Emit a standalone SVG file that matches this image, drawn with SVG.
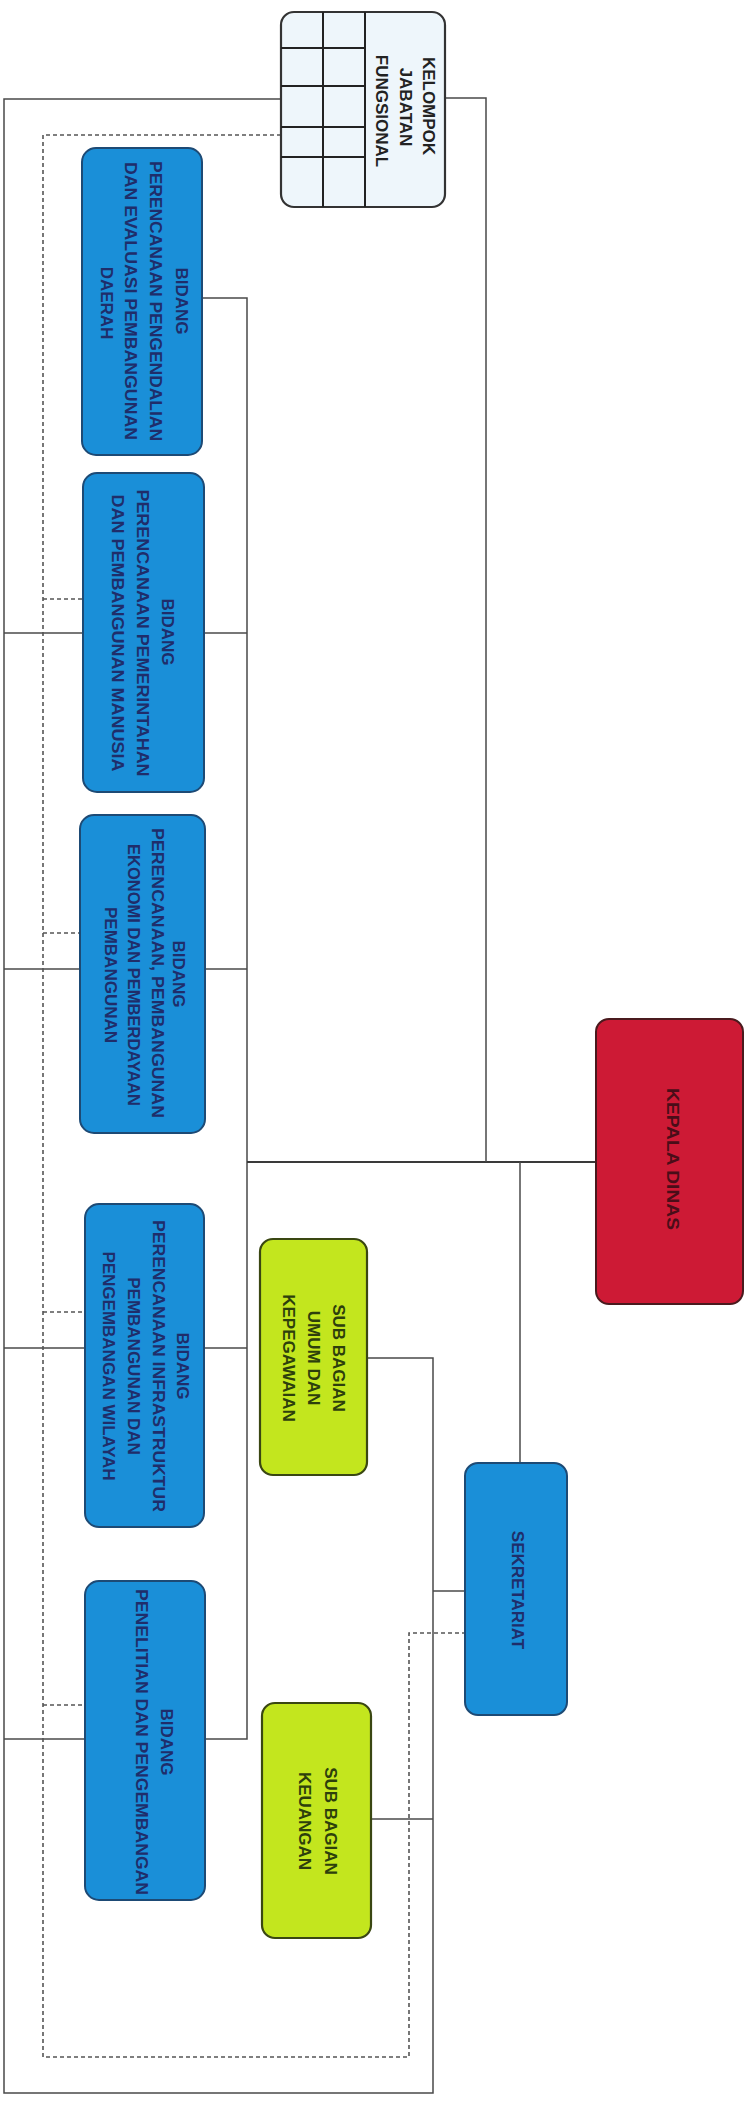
<svg xmlns="http://www.w3.org/2000/svg" width="752" height="2107" viewBox="0 0 752 2107">
<style>
.bg{fill:#ffffff}
.bidang{fill:#1a8fd8;stroke:#1d4a75;stroke-width:2}
.sub{fill:#c3e61e;stroke:#3a4712;stroke-width:2.2}
.kepala{fill:#cd1a35;stroke:#4a1a1e;stroke-width:2}
.kel{fill:#eef6fb;stroke:#333;stroke-width:2.2}
.grid{stroke:#222;stroke-width:2;fill:none}
.ln{stroke:#4a4a4a;stroke-width:1.5;fill:none}
.main{stroke:#3a3a3a;stroke-width:2.2;fill:none}
.dash{stroke:#555;stroke-width:1.6;fill:none;stroke-dasharray:4 3}
.t{font-family:"Liberation Sans",Arial,sans-serif;font-weight:bold;font-size:17px;text-anchor:middle;dominant-baseline:central}
.tb{fill:#1f2d6a}
.tg{fill:#2d3f0c}
.tr{fill:#4a0d18}
.tk{fill:#222}
</style>
<rect class="bg" x="0" y="0" width="752" height="2107"/>

<g id="connectors">
  <!-- solid outer loop from Kelompok to Sekretariat side -->
  <path class="ln" d="M281 99 H4 V2093 H433 V1358 H367"/>
  <line class="ln" x1="433" y1="1591" x2="465" y2="1591"/>
  <line class="ln" x1="371" y1="1819" x2="433" y2="1819"/>
  <!-- solid stubs to Bidang left -->
  <line class="ln" x1="4" y1="633" x2="83" y2="633"/>
  <line class="ln" x1="4" y1="969" x2="80" y2="969"/>
  <line class="ln" x1="4" y1="1348" x2="85" y2="1348"/>
  <line class="ln" x1="4" y1="1739" x2="85" y2="1739"/>
  <!-- dashed loop -->
  <path class="dash" d="M281 135 H43 V2057 H409 V1633 H465"/>
  <line class="dash" x1="43" y1="599" x2="83" y2="599"/>
  <line class="dash" x1="43" y1="933" x2="80" y2="933"/>
  <line class="dash" x1="43" y1="1312" x2="85" y2="1312"/>
  <line class="dash" x1="43" y1="1705" x2="85" y2="1705"/>
  <!-- spine right of Bidang -->
  <path class="ln" d="M202 298 H247 V1739 H205"/>
  <line class="ln" x1="204" y1="633" x2="247" y2="633"/>
  <line class="ln" x1="205" y1="969" x2="247" y2="969"/>
  <line class="ln" x1="204" y1="1348" x2="247" y2="1348"/>
  <!-- main horizontal to Kepala Dinas -->
  <line class="main" x1="247" y1="1162" x2="596" y2="1162"/>
  <!-- Kelompok to main -->
  <path class="ln" d="M445 98 H486 V1162"/>
  <!-- main to Sekretariat -->
  <line class="ln" x1="520" y1="1162" x2="520" y2="1463"/>
</g>

<g id="kelompok">
  <rect class="kel" x="281" y="12" width="164" height="195" rx="13"/>
  <path class="grid" d="M323 12 V207 M365 12 V207 M281 48 H365 M281 86 H365 M281 127 H365 M281 157 H365"/>
  <text class="t tk" x="428" y="106" transform="rotate(90 428 106)">KELOMPOK</text>
  <text class="t tk" x="405" y="107" transform="rotate(90 405 107)">JABATAN</text>
  <text class="t tk" x="381" y="111" transform="rotate(90 381 111)">FUNGSIONAL</text>
</g>

<g id="bidang1">
  <rect class="bidang" x="82" y="148" width="120" height="307" rx="14"/>
  <text class="t tb" x="181" y="301" transform="rotate(90 181 301)">BIDANG</text>
  <text class="t tb" x="155" y="301" transform="rotate(90 155 301)" textLength="280" lengthAdjust="spacingAndGlyphs">PERENCANAAN PENGENDALIAN</text>
  <text class="t tb" x="130" y="301" transform="rotate(90 130 301)" textLength="278" lengthAdjust="spacingAndGlyphs">DAN EVALUASI PEMBANGUNAN</text>
  <text class="t tb" x="106" y="303" transform="rotate(90 106 303)">DAERAH</text>
</g>

<g id="bidang2">
  <rect class="bidang" x="83" y="473" width="121" height="319" rx="14"/>
  <text class="t tb" x="167" y="632" transform="rotate(90 167 632)">BIDANG</text>
  <text class="t tb" x="142" y="633" transform="rotate(90 142 633)" textLength="287" lengthAdjust="spacingAndGlyphs">PERENCANAAN PEMERINTAHAN</text>
  <text class="t tb" x="117" y="633" transform="rotate(90 117 633)" textLength="277" lengthAdjust="spacingAndGlyphs">DAN PEMBANGUNAN MANUSIA</text>
</g>

<g id="bidang3">
  <rect class="bidang" x="80" y="815" width="125" height="318" rx="14"/>
  <text class="t tb" x="178" y="974" transform="rotate(90 178 974)">BIDANG</text>
  <text class="t tb" x="157" y="973" transform="rotate(90 157 973)" textLength="290" lengthAdjust="spacingAndGlyphs">PERENCANAAN, PEMBANGUNAN</text>
  <text class="t tb" x="133" y="975" transform="rotate(90 133 975)" textLength="262" lengthAdjust="spacingAndGlyphs">EKONOMI DAN PEMBERDAYAAN</text>
  <text class="t tb" x="110" y="975" transform="rotate(90 110 975)">PEMBANGUNAN</text>
</g>

<g id="bidang4">
  <rect class="bidang" x="85" y="1204" width="119" height="323" rx="14"/>
  <text class="t tb" x="182" y="1366" transform="rotate(90 182 1366)">BIDANG</text>
  <text class="t tb" x="158" y="1366" transform="rotate(90 158 1366)" textLength="292" lengthAdjust="spacingAndGlyphs">PERENCANAAN INFRASTRUKTUR</text>
  <text class="t tb" x="133" y="1366" transform="rotate(90 133 1366)">PEMBANGUNAN DAN</text>
  <text class="t tb" x="108" y="1366" transform="rotate(90 108 1366)">PENGEMBANGAN WILAYAH</text>
</g>

<g id="bidang5">
  <rect class="bidang" x="85" y="1581" width="120" height="319" rx="14"/>
  <text class="t tb" x="166" y="1742" transform="rotate(90 166 1742)">BIDANG</text>
  <text class="t tb" x="141" y="1742" transform="rotate(90 141 1742)" textLength="306" lengthAdjust="spacingAndGlyphs">PENELITIAN DAN PENGEMBANGAN</text>
</g>

<g id="subbagian-umum">
  <rect class="sub" x="260" y="1239" width="107" height="236" rx="13"/>
  <text class="t tg" x="338" y="1358" transform="rotate(90 338 1358)">SUB BAGIAN</text>
  <text class="t tg" x="313" y="1358" transform="rotate(90 313 1358)">UMUM DAN</text>
  <text class="t tg" x="288" y="1358" transform="rotate(90 288 1358)">KEPEGAWAIAN</text>
</g>

<g id="subbagian-keuangan">
  <rect class="sub" x="262" y="1703" width="109" height="235" rx="13"/>
  <text class="t tg" x="330" y="1821" transform="rotate(90 330 1821)">SUB BAGIAN</text>
  <text class="t tg" x="304" y="1821" transform="rotate(90 304 1821)">KEUANGAN</text>
</g>

<g id="sekretariat">
  <rect class="bidang" x="465" y="1463" width="102" height="252" rx="13"/>
  <text class="t tb" x="517" y="1590" transform="rotate(90 517 1590)">SEKRETARIAT</text>
</g>

<g id="kepala-dinas">
  <rect class="kepala" x="596" y="1019" width="147" height="285" rx="13"/>
  <text class="t tr" x="672" y="1159" transform="rotate(90 672 1159)" textLength="142" lengthAdjust="spacingAndGlyphs">KEPALA DINAS</text>
</g>
</svg>
